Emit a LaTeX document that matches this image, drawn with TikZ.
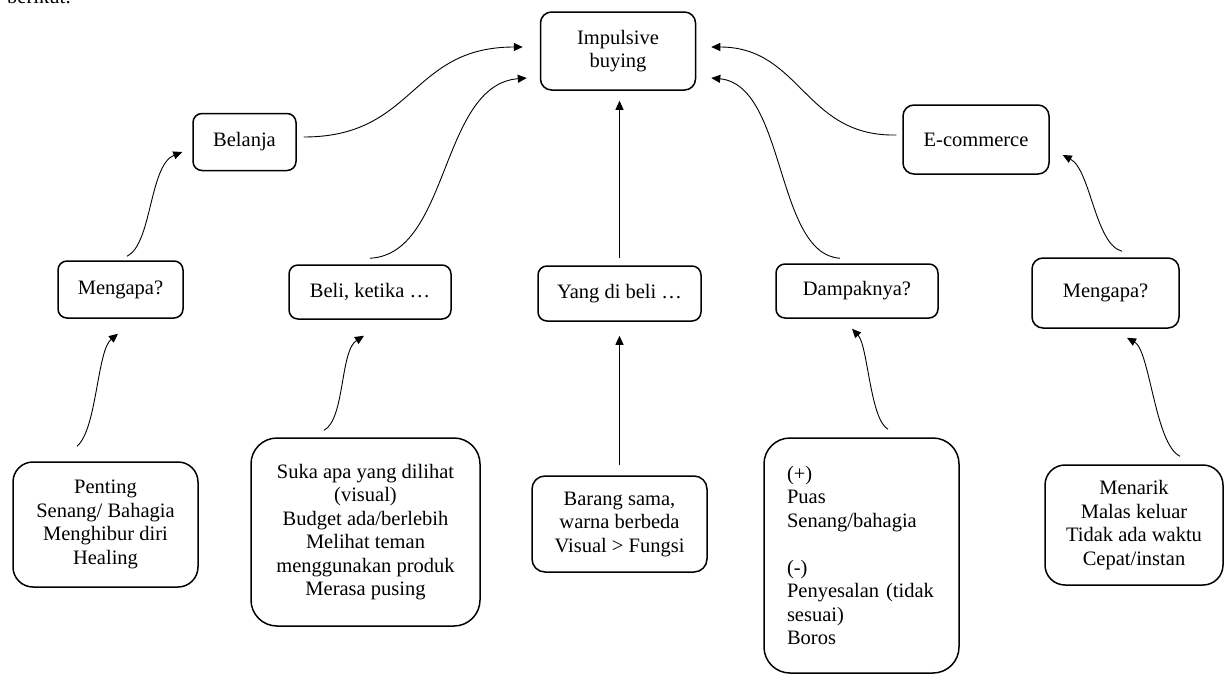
\documentclass[tikz,border=0pt]{standalone}
\usepackage{fontspec}
\setmainfont{Liberation Serif}
\usetikzlibrary{arrows.meta,calc}
\begin{document}
\begin{tikzpicture}[x=1pt,y=-1pt,
  every node/.style={font=\fontsize{20.5}{23.5}\selectfont},
  box/.style={draw, line width=1.5pt, rounded corners=#1, align=center, inner sep=0pt},
  box/.default=9pt,
  arr/.style={line width=0.9pt, -{Triangle[length=9pt,width=8pt]}}]
\clip (0,0) rectangle (1227,675);
\useasboundingbox (0,0) rectangle (1227,675);
\node[anchor=base west, inner sep=0pt] (top) at (7,3) {berikut:};
% nodes
\node[box=11pt, minimum width=155pt, minimum height=78pt] (imp) at (618,51) {Impulsive\\buying};
\node[box, minimum width=103pt, minimum height=57pt] (bel) at (244.5,142) {Belanja};
\node[box=11pt, minimum width=146pt, minimum height=69pt] (ecom) at (976,139.5) {E-commerce};
\node[box, minimum width=125pt, minimum height=57pt] (meng1) at (120.5,289.5) {Mengapa?};
\node[box, minimum width=162pt, minimum height=54pt] (beli) at (370,292) {Beli, ketika \dots};
\node[box, minimum width=163pt, minimum height=55pt] (yang) at (619.5,293.5) {Yang di beli \dots};
\node[box, minimum width=162pt, minimum height=54pt] (damp) at (857,291) {Dampaknya?};
\node[box=11pt, minimum width=147pt, minimum height=70pt] (meng2) at (1105.5,293) {Mengapa?};
\node[box=20pt, minimum width=185pt, minimum height=125pt] (pent) at (105.5,524.5)
  {Penting\\Senang/ Bahagia\\Menghibur diri\\Healing};
\node[box=26pt, minimum width=229pt, minimum height=188pt] (suka) at (365.5,532)
  {Suka apa yang dilihat\\(visual)\\Budget ada/berlebih\\Melihat teman\\menggunakan produk\\Merasa pusing};
\node[box=13pt, minimum width=175pt, minimum height=96pt] (bar) at (619.5,524)
  {Barang sama,\\warna berbeda\\Visual > Fungsi};
\node[box=26pt, minimum height=235pt, text width=149pt, inner xsep=23pt, align=left] (dmp) at (861.5,555.5)
  {(+)\\Puas\\Senang/bahagia\\\mbox{}\\(-)\\Penyesalan (tidak\\sesuai)\\Boros};
\node[box=20pt, minimum width=178pt, minimum height=120pt] (men) at (1134,525)
  {Menarik\\Malas keluar\\Tidak ada waktu\\Cepat/instan};
% connectors
\draw[arr] ($(pent.north)+(-28.5,-15)$) .. controls +(20,-17) and +(-21,17) .. ($(meng1.south)+(-2.5,15)$);
\draw[arr] ($(meng1.north)+(6.5,-4)$) .. controls +(25,-12) and +(-33,13) .. ($(bel.west)+(-10,10)$);
\draw[arr] ($(bel.east)+(7,-5)$) .. controls +(112,0) and +(-113,0) .. ($(imp.west)+(-17,-4)$);
\draw[arr] ($(beli.north)+(0,-6)$) .. controls +(80,-4) and +(-87,7) .. ($(imp.west)+(-13,27)$);
\draw[arr] ($(yang.north)+(0,-7)$) -- ($(yang.north |- imp.south)+(0,10)$);
\draw[arr] ($(damp.north)+(-17,-5)$) .. controls +(-65,-4) and +(75,7) .. ($(imp.east)+(15,27)$);
\draw[arr] ($(ecom.west)+(-6,-4.5)$) .. controls +(-92,2) and +(90,0) .. ($(imp.east)+(15,-4)$);
\draw[arr] ($(meng2.north)+(16.5,-6)$) .. controls +(-27,-7) and +(28,15) .. ($(ecom.east)+(13,15.5)$);
\draw[arr] ($(men.north)+(46,-8)$) .. controls +(-25,-12) and +(23,13) .. ($(meng2.south)+(21.5,9)$);
\draw[arr] ($(suka.north)+(-41.5,-7)$) .. controls +(21,-11) and +(-24,15) .. ($(beli.south)+(-6,16)$);
\draw[arr] ($(bar.north)+(0,-10)$) -- ($(yang.south)+(0,14)$);
\draw[arr] ($(dmp.north)+(26.5,-8)$) .. controls +(-18,-10) and +(16,17) .. ($(damp.south)+(-5,10)$);
\end{tikzpicture}
\end{document}
